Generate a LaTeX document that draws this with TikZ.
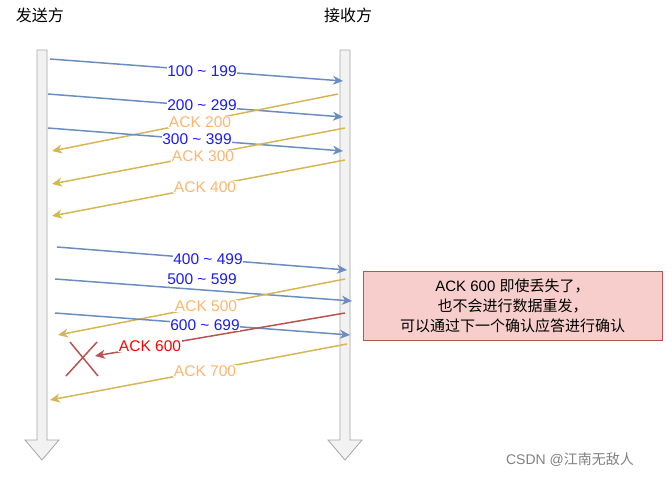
\documentclass[tikz,border=0pt]{standalone}
\usepackage{fontspec}
\setmainfont{Liberation Sans}
\newfontfamily\cjk{Noto Sans CJK SC}
\usetikzlibrary{arrows.meta}
\definecolor{seqline}{HTML}{6C8EBF}
\definecolor{seqtext}{HTML}{1A1AFF}
\definecolor{ackline}{HTML}{D6B656}
\definecolor{acktext}{HTML}{FFB570}
\definecolor{lostline}{HTML}{B85450}
\definecolor{notefill}{HTML}{F8CECC}
\tikzset{
  lbl/.style={fill=white,inner sep=0.5pt,font=\fontsize{15.5}{16}\selectfont},
  seq/.style={seqline,line width=1.5pt,-{Stealth[length=10pt,width=9pt,inset=3pt]}},
  ack/.style={ackline,line width=1.5pt,-{Stealth[length=10pt,width=9pt,inset=3pt]}},
  lost/.style={lostline,line width=1.5pt,-{Stealth[length=10pt,width=9pt,inset=3pt]}},
}
\begin{document}
\begin{tikzpicture}[x=1pt,y=-1pt]
\useasboundingbox (0,0) rectangle (672,479);
% the two time lines
\foreach \name/\x in {send/42,recv/345}{
  \fill[gray!10] (\x-5,50) -- (\x+5,50) -- (\x+5,440) -- (\x+17,440) -- (\x,460) -- (\x-17,440) -- (\x-5,440) -- cycle;
  \draw[gray!70,line width=0.8pt] (\x-5,50) -- (\x+5,50) -- (\x+5,440) -- (\x+17,440) -- (\x,460) -- (\x-17,440) -- (\x-5,440) -- cycle;
}
\node[font=\cjk\fontsize{16}{17}\selectfont] (sender) at (40,15) {发送方};
\node[font=\cjk\fontsize{16}{17}\selectfont] (receiver) at (348,15) {接收方};
% segments
\coordinate (s1) at (50,59);   \coordinate (r1) at (343,81);
\coordinate (s2) at (48,94);   \coordinate (r2) at (343,117);
\coordinate (r3) at (338,94);  \coordinate (s3) at (52,151);
\coordinate (s4) at (48,128);  \coordinate (r4) at (343,151);
\coordinate (r5) at (345,128); \coordinate (s5) at (52,184);
\coordinate (r6) at (345,160); \coordinate (s6) at (52,216);
\coordinate (s7) at (57,247);  \coordinate (r7) at (347,270);
\coordinate (s8) at (55,279);  \coordinate (r8) at (352,301);
\coordinate (r9) at (345,279); \coordinate (s9) at (58,335);
\coordinate (s10) at (55,313); \coordinate (r10) at (350,335);
\coordinate (r11) at (345,313); \coordinate (s11) at (95,356);
\coordinate (r12) at (347,344); \coordinate (s12) at (50,400);
\draw[seq] (s1) -- (r1);
\draw[seq] (s2) -- (r2);
\draw[ack] (r3) -- (s3);
\draw[seq] (s4) -- (r4);
\draw[ack] (r5) -- (s5);
\draw[ack] (r6) -- (s6);
\draw[seq] (s7) -- (r7);
\draw[seq] (s8) -- (r8);
\draw[ack] (r9) -- (s9);
\draw[seq] (s10) -- (r10);
\draw[lost] (r11) -- (s11);
\draw[ack] (r12) -- (s12);
% labels
\node[lbl,text=seqtext] (l1) at (202,71) {100 \textasciitilde{} 199};
\node[lbl,text=seqtext] (l2) at (202,105) {200 \textasciitilde{} 299};
\node[lbl,text=acktext] (l3) at (200,122) {ACK 200};
\node[lbl,text=seqtext] (l4) at (197,139) {300 \textasciitilde{} 399};
\node[lbl,text=acktext] (l5) at (203,156) {ACK 300};
\node[lbl,text=acktext] (l6) at (205,187) {ACK 400};
\node[lbl,text=seqtext] (l7) at (208,259) {400 \textasciitilde{} 499};
\node[lbl,text=seqtext] (l8) at (202,279) {500 \textasciitilde{} 599};
\node[lbl,text=acktext] (l9) at (206,306) {ACK 500};
\node[lbl,text=seqtext] (l10) at (205,325) {600 \textasciitilde{} 699};
\node[lbl,text=red] (l11) at (150,346) {ACK 600};
\node[lbl,text=acktext] (l12) at (205,371) {ACK 700};
% lost mark
\draw[lostline,line width=1.5pt] (70,342) -- (98,376) (66,376) -- (97,342);
% note
\node[draw=lostline,fill=notefill,minimum width=299pt,minimum height=69pt,align=center,
  font=\fontsize{15}{20}\selectfont,inner sep=2pt] (note) at (512.5,305.5)
  {ACK 600 {\cjk 即使丢失了，}\\{\cjk 也不会进行数据重发，}\\{\cjk 可以通过下一个确认应答进行确认}};
\node[text=gray,font=\fontsize{14}{15}\selectfont] (mark) at (570,460) {CSDN @{\cjk 江南无敌人}};
\end{tikzpicture}
\end{document}
